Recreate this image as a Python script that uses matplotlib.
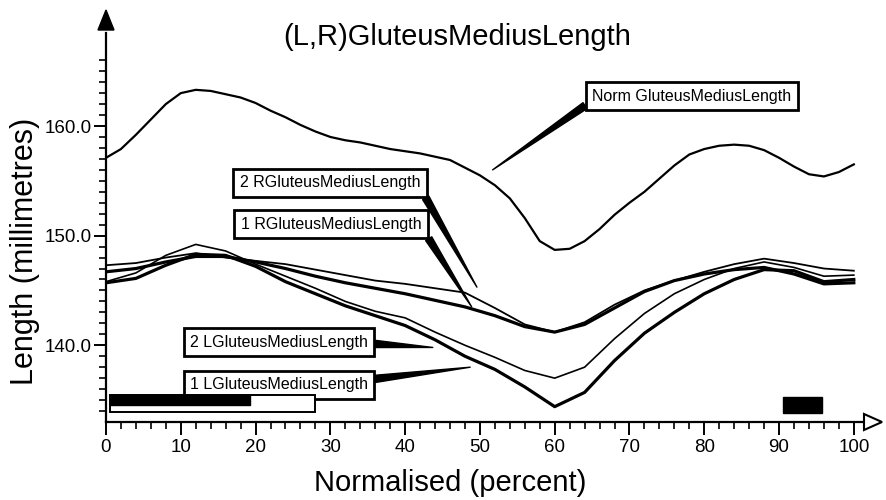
import matplotlib
matplotlib.use("Agg")
import matplotlib.pyplot as plt
from matplotlib.patches import Rectangle, Polygon

plt.rcParams['font.family'] = ['Liberation Sans', 'DejaVu Sans']

# ---- data ----
norm_x = [0, 2, 4, 6, 8, 10, 12, 14, 16, 18, 20, 22, 24, 26, 28, 30, 32, 34, 36, 38,
          40, 42, 44, 46, 48, 50, 52, 54, 56, 58, 60, 62, 64, 66, 68, 70, 72, 74, 76, 78,
          80, 82, 84, 86, 88, 90, 92, 94, 96, 98, 100]
norm_y = [157.1, 157.9, 159.2, 160.6, 162.0, 163.0, 163.3, 163.2, 162.9, 162.6,
          162.1, 161.4, 160.8, 160.1, 159.5, 159.0, 158.7, 158.5, 158.2, 157.9,
          157.7, 157.5, 157.2, 156.9, 156.2, 155.5, 154.6, 153.4, 151.6, 149.5,
          148.7, 148.8, 149.5, 150.6, 151.9, 153.0, 154.0, 155.2, 156.4, 157.4,
          157.9, 158.2, 158.3, 158.2, 157.8, 157.1, 156.3, 155.6, 155.4, 155.8, 156.5]

side_x = [0, 4, 8, 12, 16, 20, 24, 28, 32, 36, 40, 44, 48, 52, 56, 60, 64, 68, 72, 76,
          80, 84, 88, 92, 96, 100]
l1_y = [145.7, 146.1, 147.3, 148.3, 148.2, 147.2, 145.8, 144.7, 143.6, 142.7, 141.8,
        140.5, 139.0, 137.8, 136.2, 134.4, 135.7, 138.6, 141.1, 143.0, 144.7, 146.0,
        146.9, 146.8, 145.8, 146.0]
l2_y = [145.8, 146.6, 148.2, 149.2, 148.6, 147.4, 146.3, 145.2, 144.0, 143.1, 142.5,
        141.2, 140.0, 138.9, 137.7, 137.0, 138.0, 140.6, 142.9, 144.7, 146.0, 147.0,
        147.6, 147.1, 146.3, 146.4]
r1_y = [146.7, 147.0, 147.6, 148.1, 148.1, 147.6, 147.0, 146.3, 145.7, 145.2, 144.7,
        144.1, 143.5, 142.7, 141.7, 141.2, 141.9, 143.4, 144.9, 145.9, 146.5, 146.9,
        147.1, 146.5, 145.6, 145.7]
r2_y = [147.3, 147.5, 148.0, 148.4, 148.0, 147.7, 147.4, 146.9, 146.4, 145.9, 145.6,
        145.2, 144.8, 143.4, 141.9, 141.2, 142.1, 143.7, 145.0, 145.9, 146.7, 147.4,
        147.9, 147.5, 147.0, 146.8]

x_ticks = [0, 10, 20, 30, 40, 50, 60, 70, 80, 90, 100]
y_ticks = [140, 150, 160]
y_tick_labels = ["140.0", "150.0", "160.0"]

W, H = 887, 500
fig = plt.figure(figsize=(W / 100, H / 100), dpi=100)
ax = fig.add_axes([106 / W, (H - 422) / H, (880 - 106) / W, (422 - 12) / H])
ax.set_xlim(0, 103.5)
ax.set_ylim(133, 170.4)

ax.plot(norm_x, norm_y, color='black', lw=1.6)
ax.plot(side_x, r2_y, color='black', lw=1.3)
ax.plot(side_x, r1_y, color='black', lw=2.3)
ax.plot(side_x, l2_y, color='black', lw=1.2)
ax.plot(side_x, l1_y, color='black', lw=2.3)

# axes look
for s in ['top', 'right']:
    ax.spines[s].set_visible(False)
ax.spines['left'].set_linewidth(1.6)
ax.spines['bottom'].set_linewidth(1.6)
ax.spines['left'].set_bounds(133, 168.5)
ax.spines['bottom'].set_bounds(0, 102)

ax.set_xticks(x_ticks)
ax.set_xticks(range(0, 101, 2), minor=True)
ax.set_yticks(y_ticks)
ax.set_yticklabels(y_tick_labels)
ax.set_yticks(range(134, 167), minor=True)
ax.tick_params(axis='both', which='major', length=9, width=1.4, labelsize=13.5)
ax.tick_params(axis='x', which='major', pad=3)
ax.tick_params(axis='y', which='major', pad=1)
ax.tick_params(axis='both', which='minor', length=5, width=1.2)

# arrow heads on the axes
def fig_px(x, y):
    return (x / W, (H - y) / H)

fig.add_artist(Polygon([fig_px(98, 30), fig_px(114, 30), fig_px(106, 10)],
                       closed=True, transform=fig.transFigure, fc='black', ec='black'))
fig.add_artist(Polygon([fig_px(864, 414), fig_px(864, 430), fig_px(882, 422)],
                       closed=True, transform=fig.transFigure, fc='white', ec='black', lw=1.5))

# labels and title
fig.text(*fig_px(450, 483), "Normalised (percent)", fontsize=21, ha='center', va='center')
fig.text(*fig_px(25, 251), "Length (millimetres)", fontsize=22, ha='center', va='center',
         rotation=90)
fig.text(*fig_px(457, 37), "(L,R)GluteusMediusLength", fontsize=21,
         ha='center', va='center')

# callouts
callouts = [
    ("Norm GluteusMediusLength", (51.7, 156.0), (692, 96), (0.0, 0.2)),
    ("2 RGluteusMediusLength", (49.6, 145.3), (330, 183), (1.0, 0.15)),
    ("1 RGluteusMediusLength", (48.9, 143.5), (331, 224), (1.0, 0.3)),
    ("2 LGluteusMediusLength", (43.7, 139.8), (279, 342), (1.0, 0.4)),
    ("1 LGluteusMediusLength", (48.7, 138.0), (279, 385), (1.0, 0.85)),
]
for txt, tip, box, rel in callouts:
    ax.annotate(txt, xy=tip, xycoords='data', xytext=(box[0], H - box[1]),
                textcoords='figure pixels', ha='center', va='center', fontsize=11.5,
                bbox=dict(boxstyle='square,pad=0.4', fc='white', ec='black', lw=2.0),
                arrowprops=dict(arrowstyle='wedge,tail_width=0.45,shrink_factor=0.5',
                                fc='black', ec='black', relpos=rel,
                                shrinkA=0, shrinkB=0),
                annotation_clip=False)

# stray boxes
def fig_rect(x0, y0, x1, y1, **kw):
    fig.add_artist(Rectangle(fig_px(x0, y1), (x1 - x0) / W, (y1 - y0) / H,
                             transform=fig.transFigure, **kw))

fig_rect(110, 395, 315, 412, fc='white', ec='black', lw=1.4)
fig_rect(110, 395, 250, 405, fc='black', ec='black', lw=1)
fig_rect(783, 397, 822, 413, fc='black', ec='black', lw=1)

fig.savefig("out.png", dpi=100)
